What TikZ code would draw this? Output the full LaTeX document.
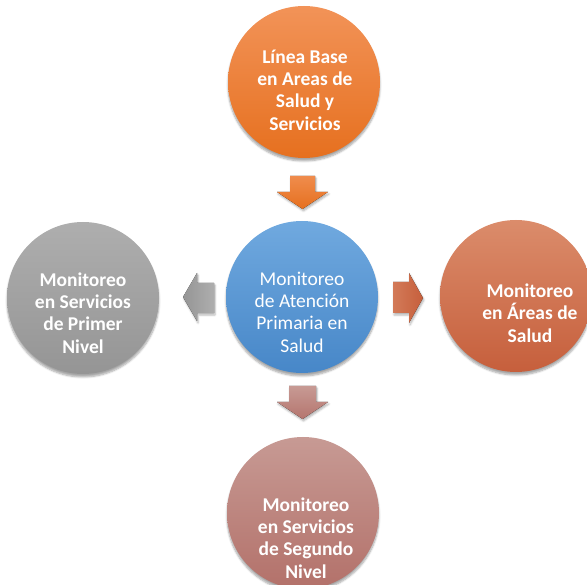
\documentclass[tikz,border=0pt]{standalone}
\usepackage{fontspec}
\setmainfont{Carlito}
\usetikzlibrary{shadows.blur}
\definecolor{orT}{HTML}{F29358}
\definecolor{orB}{HTML}{E6701F}
\definecolor{blT}{HTML}{70A9DF}
\definecolor{blB}{HTML}{4787C8}
\definecolor{grT}{HTML}{AEAEAE}
\definecolor{grB}{HTML}{959595}
\definecolor{teT}{HTML}{DB8C6B}
\definecolor{teB}{HTML}{C65F3C}
\definecolor{roT}{HTML}{C79A94}
\definecolor{roB}{HTML}{B3716A}
\tikzset{
  circ/.style={circle, minimum size=152pt, inner sep=0pt, draw=none,
    blur shadow={shadow xshift=0pt, shadow yshift=-3pt, shadow blur steps=6, shadow opacity=35}},
  lbl/.style={text=white, align=center, font=\fontsize{19.5}{22.3}\selectfont\bfseries},
  lblr/.style={text=white, align=center, font=\fontsize{19.5}{22.3}\selectfont},
  blk/.style={draw=none, blur shadow={shadow xshift=1pt, shadow yshift=-2pt, shadow blur steps=4, shadow opacity=30}}
}
\begin{document}
\begin{tikzpicture}[x=1pt,y=-1pt]
\useasboundingbox (0,0) rectangle (587,585);
% circles
\node[circ, top color=orT, bottom color=orB] (top) at (304,82) {};
\node[circ, top color=blT, bottom color=blB] (mid) at (302,297) {};
\node[circ, top color=grT, bottom color=grB] (left) at (83,298) {};
\node[circ, top color=teT, bottom color=teB] (right) at (516,296) {};
\node[circ, top color=roT, bottom color=roB] (bot) at (303,513) {};
% texts
\node[lbl] (ttop) at (305,90) {Línea Base\\en Areas de\\Salud y\\Servicios};
\node[lblr] (tmid) at (302,312) {Monitoreo\\de Atención\\Primaria en\\Salud};
\node[lbl] (tleft) at (83,313) {Monitoreo\\en Servicios\\de Primer\\Nivel};
\node[lbl] (tright) at (530,313) {Monitoreo\\en Áreas de\\Salud};
\node[lbl] (tbot) at (306,538) {Monitoreo\\en Servicios\\de Segundo\\Nivel};
% block arrows
\fill[blk, top color=orT!80!orB, bottom color=orB] (290,176) -- (315,176) -- (315,192) -- (328,192) -- (302.5,209) -- (277,192) -- (290,192) -- cycle;
\fill[blk, top color=roT, bottom color=roB!90!roT] (289,386) -- (316,386) -- (316,402) -- (328,402) -- (302.5,419) -- (277,402) -- (289,402) -- cycle;
\fill[blk, left color=grB, right color=grT] (214,283) -- (214,313) -- (197,313) -- (197,321) -- (183,297) -- (197,273) -- (197,283) -- cycle;
\fill[blk, left color=teT!60!teB, right color=teB] (393,282) -- (393,313) -- (409,313) -- (409,323) -- (423,298) -- (409,273) -- (409,282) -- cycle;
\end{tikzpicture}
\end{document}
